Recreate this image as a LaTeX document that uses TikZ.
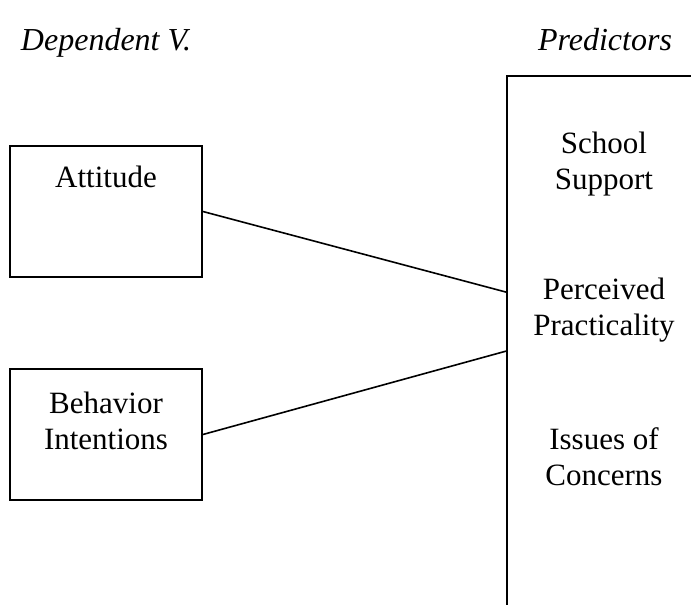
\documentclass[tikz,border=0pt]{standalone}
\usepackage{fontspec}
\setmainfont{Liberation Serif}
\usetikzlibrary{positioning}

\begin{document}
\begin{tikzpicture}[
    x=1pt, y=-1pt,
    font=\fontsize{31}{36}\selectfont,
    varbox/.style={rectangle, draw=black, line width=1.8pt, minimum width=192pt, minimum height=131pt, inner sep=0pt},
    panel/.style={rectangle, draw=black, line width=1.8pt, minimum width=260pt, minimum height=620pt, inner sep=0pt},
    lbl/.style={anchor=north, align=center, inner sep=0pt},
    head/.style={anchor=north, inner sep=0pt, font=\fontsize{32}{36}\selectfont\itshape},
    link/.style={line width=1.6pt, black}
  ]

    % Page frame (the predictor panel runs off the right and bottom)
    \useasboundingbox (0,0) rectangle (691,605);
    \clip (0,0) rectangle (691,605);

    % Column headings
    \node[head] (dvhead) at (106, 28) {Dependent V.};
    \node[head] (prhead) at (605, 28) {Predictors};

    % Dependent variables
    \node[varbox] (att) at (106, 211.5) {};
    \node[varbox] (bi)  at (106, 434.5) {};
    \node[lbl] (attlbl) at (106, 166) {Attitude};
    \node[lbl] (bilbl)  at (106, 392) {Behavior\\Intentions};

    % Predictor panel
    \node[panel] (pred) at (637, 386) {};
    \node[lbl] (sslbl) at (604, 132) {School\\Support};
    \node[lbl] (pplbl) at (604, 278) {Perceived\\Practicality};
    \node[lbl] (iclbl) at (604, 427) {Issues of\\Concerns};

    % Links into the panel
    \coordinate (in1) at ([yshift=-217pt]pred.north west);
    \coordinate (in2) at ([yshift=-276pt]pred.north west);
    \draw[link] (att.east) -- (in1);
    \draw[link] (bi.east) -- (in2);

  \end{tikzpicture}
\end{document}
